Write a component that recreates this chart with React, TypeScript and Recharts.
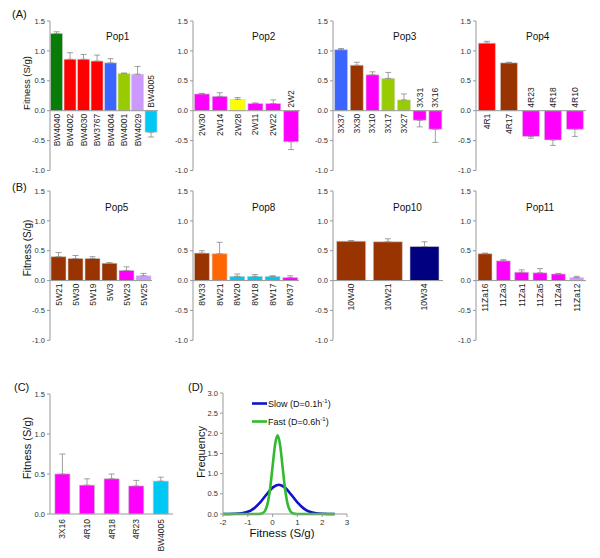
import React from "react";
import {
  BarChart,
  Bar,
  Cell,
  XAxis,
  YAxis,
  ReferenceLine,
  ErrorBar,
  LabelList,
  LineChart,
  Line,
} from "recharts";

const FONT = '"Liberation Sans", Arial, sans-serif';

// colour classes used for the strains
const GREEN = "#087c08";
const RED = "#ff0000";
const BLUE = "#3a66ff";
const LIME = "#99cc00";
const LILAC = "#cc99ff";
const CYAN = "#00c8f5";
const MAGENTA = "#ff00ff";
const BROWN = "#993300";
const YELLOW = "#ffff00";
const ORANGE = "#ff6600";
const NAVY = "#000080";

// (A)
const pop1Names = ["BW4040", "BW4002", "BW4030", "BW3767", "BW4004", "BW4001", "BW4029", "BW4005"];
const pop1Fitness = [1.29, 0.86, 0.86, 0.83, 0.8, 0.62, 0.61, -0.36];
const pop1Err = [0.03, 0.11, 0.08, 0.1, 0.07, 0.01, 0.13, 0.08];
const pop1Colors = [GREEN, RED, RED, RED, BLUE, LIME, LILAC, CYAN];

const pop2Names = ["2W30", "2W14", "2W28", "2W11", "2W22", "2W2"];
const pop2Fitness = [0.28, 0.24, 0.19, 0.12, 0.12, -0.52];
const pop2Err = [0.01, 0.06, 0.03, 0.01, 0.06, 0.13];
const pop2Colors = [MAGENTA, MAGENTA, YELLOW, MAGENTA, MAGENTA, MAGENTA];

const pop3Names = ["3X37", "3X30", "3X10", "3X17", "3X27", "3X31", "3X16"];
const pop3Fitness = [1.02, 0.76, 0.6, 0.54, 0.18, -0.16, -0.31];
const pop3Err = [0.02, 0.05, 0.05, 0.1, 0.1, 0.11, 0.22];
const pop3Colors = [BLUE, BROWN, MAGENTA, LIME, LIME, MAGENTA, MAGENTA];

const pop4Names = ["4R1", "4R17", "4R23", "4R18", "4R10"];
const pop4Fitness = [1.13, 0.8, -0.43, -0.49, -0.31];
const pop4Err = [0.03, 0.01, 0.03, 0.09, 0.12];
const pop4Colors = [RED, BROWN, MAGENTA, MAGENTA, MAGENTA];

// (B)
const pop5Names = ["5W21", "5W30", "5W19", "5W3", "5W23", "5W25"];
const pop5Fitness = [0.4, 0.37, 0.37, 0.29, 0.17, 0.08];
const pop5Err = [0.07, 0.05, 0.03, 0.01, 0.06, 0.04];
const pop5Colors = [BROWN, BROWN, BROWN, BROWN, MAGENTA, LILAC];

const pop8Names = ["8W33", "8W21", "8W20", "8W18", "8W17", "8W37"];
const pop8Fitness = [0.46, 0.45, 0.07, 0.07, 0.07, 0.05];
const pop8Err = [0.04, 0.19, 0.04, 0.03, 0.01, 0.03];
const pop8Colors = [BROWN, ORANGE, CYAN, CYAN, CYAN, MAGENTA];

const pop10Names = ["10W40", "10W21", "10W34"];
const pop10Fitness = [0.66, 0.65, 0.57];
const pop10Err = [0.01, 0.05, 0.08];
const pop10Colors = [BROWN, BROWN, NAVY];

const pop11Names = ["11Za16", "11Za3", "11Za1", "11Za5", "11Za4", "11Za12"];
const pop11Fitness = [0.45, 0.33, 0.14, 0.13, 0.11, 0.05];
const pop11Err = [0.01, 0.02, 0.04, 0.07, 0.01, 0.02];
const pop11Colors = [BROWN, MAGENTA, MAGENTA, MAGENTA, MAGENTA, LILAC];

// (C)
const cNames = ["3X16", "4R10", "4R18", "4R23", "BW4005"];
const cFitness = [0.5, 0.36, 0.44, 0.35, 0.41];
const cErr = [0.25, 0.08, 0.06, 0.07, 0.05];
const cColors = [MAGENTA, MAGENTA, MAGENTA, MAGENTA, CYAN];

// (D)
const slowX = [-2, -1.75, -1.5, -1.25, -1, -0.75, -0.5, -0.25, 0, 0.25, 0.5, 0.75, 1, 1.25, 1.5, 1.75, 2, 2.25, 2.5];
const slowFreq = [0, 0.001, 0.005, 0.018, 0.055, 0.139, 0.286, 0.48, 0.654, 0.725, 0.654, 0.48, 0.286, 0.139, 0.055, 0.018, 0.005, 0.001, 0];
const fastX = [-2, -1, -0.6, -0.5, -0.4, -0.3, -0.2, -0.1, 0, 0.1, 0.2, 0.3, 0.4, 0.5, 0.6, 0.7, 0.8, 0.9, 1, 1.5, 2.5];
const fastFreq = [0, 0, 0, 0.004, 0.022, 0.086, 0.264, 0.633, 1.183, 1.721, 1.95, 1.721, 1.183, 0.633, 0.264, 0.086, 0.022, 0.004, 0, 0, 0];

const barTicks = [-1, -0.5, 0, 0.5, 1, 1.5];
const cTicks = [0, 0.5, 1, 1.5];
const dYTicks = [0, 0.5, 1, 1.5, 2, 2.5, 3];
const dXTicks = [-2, -1, 0, 1, 2, 3];

type Row = { name: string; value: number; err: [number, number] };

function toRows(names: string[], values: number[], errs: number[]): Row[] {
  return names.map((n, i) => ({
    name: n,
    value: values[i],
    err: values[i] >= 0 ? [0, errs[i]] : [errs[i], 0],
  }));
}

const AXIS = "#999";
const tickStyle = { fontSize: 7.5, fill: "#333", fontFamily: FONT };

// strain name: under the zero line for positive bars, over it for negative ones
function StrainLabel(props: any) {
  const vb = props.viewBox || props;
  const x = props.x ?? vb.x;
  const y = props.y ?? vb.y;
  const w = props.width ?? vb.width;
  const h = props.height ?? vb.height;
  const row: Row = props.rows[props.index];
  const cx = x + w / 2;
  const pos = row.value >= 0;
  const zero = pos ? Math.max(y, y + h) : Math.min(y, y + h);
  const ty = pos ? zero + 3 : zero - 3;
  return (
    <text
      x={cx}
      y={ty}
      transform={`rotate(-90 ${cx} ${ty})`}
      textAnchor={pos ? "end" : "start"}
      dominantBaseline="central"
      fontSize={8.5}
      fill="#222"
      fontFamily={FONT}
    >
      {row.name}
    </text>
  );
}

function StrainPanel({ rows, colors, left, top, plotWidth, plotHeight, gap = "10%" }: any) {
  return (
    <div style={{ position: "absolute", left, top }}>
      <BarChart
        width={30 + plotWidth + 4}
        height={plotHeight + 10}
        data={rows}
        margin={{ top: 5, right: 4, bottom: 5, left: 0 }}
        barCategoryGap={gap}
      >
        <XAxis dataKey="name" hide />
        <YAxis
          domain={[-1, 1.5]}
          ticks={barTicks}
          interval={0}
          width={30}
          tickSize={3}
          axisLine={{ stroke: AXIS }}
          tickLine={{ stroke: AXIS }}
          tick={tickStyle}
          tickFormatter={(v: number) => v.toFixed(1)}
        />
        <ReferenceLine y={0} stroke={AXIS} />
        <Bar dataKey="value" isAnimationActive={false} stroke="#d0d0d0" strokeWidth={0.6}>
          {rows.map((r: Row, i: number) => (
            <Cell key={r.name} fill={colors[i]} />
          ))}
          <ErrorBar dataKey="err" direction="y" width={3} stroke="#888" strokeWidth={0.8} />
          <LabelList dataKey="name" content={(p: any) => <StrainLabel {...p} rows={rows} />} />
        </Bar>
      </BarChart>
    </div>
  );
}

function RotTick({ x, y, payload }: any) {
  const ty = y - 3;
  return (
    <text
      x={x}
      y={ty}
      transform={`rotate(-90 ${x} ${ty})`}
      textAnchor="end"
      dominantBaseline="central"
      fontSize={8.5}
      fill="#222"
      fontFamily={FONT}
    >
      {payload.value}
    </text>
  );
}

function PanelC() {
  const rows = toRows(cNames, cFitness, cErr);
  return (
    <div style={{ position: "absolute", left: 20, top: 389 }}>
      <BarChart
        width={30 + 123 + 4}
        height={169}
        data={rows}
        margin={{ top: 5, right: 4, bottom: 0, left: 0 }}
        barCategoryGap="20%"
      >
        <XAxis
          dataKey="name"
          interval={0}
          height={44}
          axisLine={{ stroke: AXIS }}
          tickLine={false}
          tick={<RotTick />}
        />
        <YAxis
          domain={[0, 1.5]}
          ticks={cTicks}
          interval={0}
          width={30}
          tickSize={3}
          axisLine={{ stroke: AXIS }}
          tickLine={{ stroke: AXIS }}
          tick={tickStyle}
          tickFormatter={(v: number) => v.toFixed(1)}
        />
        <Bar dataKey="value" isAnimationActive={false} stroke="#bbb" strokeWidth={0.6}>
          {rows.map((r, i) => (
            <Cell key={r.name} fill={cColors[i]} />
          ))}
          <ErrorBar dataKey="err" direction="y" width={3} stroke="#888" strokeWidth={0.8} />
        </Bar>
      </BarChart>
    </div>
  );
}

function PanelD() {
  const slow = slowX.map((x, i) => ({ x, y: slowFreq[i] }));
  const fast = fastX.map((x, i) => ({ x, y: fastFreq[i] }));
  return (
    <div style={{ position: "absolute", left: 193, top: 388 }}>
      <LineChart width={30 + 124 + 6} height={140} margin={{ top: 5, right: 6, bottom: 0, left: 0 }}>
        <XAxis
          dataKey="x"
          type="number"
          domain={[-2, 3]}
          ticks={dXTicks}
          interval={0}
          height={14}
          tickSize={3}
          axisLine={{ stroke: AXIS }}
          tickLine={{ stroke: AXIS }}
          tick={{ ...tickStyle, fontSize: 8 }}
        />
        <YAxis
          domain={[0, 3]}
          ticks={dYTicks}
          interval={0}
          width={30}
          tickSize={3}
          axisLine={{ stroke: AXIS }}
          tickLine={{ stroke: AXIS }}
          tick={tickStyle}
          tickFormatter={(v: number) => v.toFixed(1)}
        />
        <Line data={slow} dataKey="y" type="monotone" stroke="#0f12c8" strokeWidth={2.6} dot={false} isAnimationActive={false} />
        <Line data={fast} dataKey="y" type="monotone" stroke="#2fba2f" strokeWidth={2.6} dot={false} isAnimationActive={false} />
      </LineChart>
    </div>
  );
}

function Overlay() {
  const lab = { fontFamily: FONT, fill: "#111" };
  const title = (x: number, y: number, t: string) => (
    <text x={x} y={y} fontSize={10} {...lab}>
      {t}
    </text>
  );
  const vlabel = (cx: number, cy: number, t: string, size: number) => (
    <text
      x={cx}
      y={cy}
      transform={`rotate(-90 ${cx} ${cy})`}
      textAnchor="middle"
      dominantBaseline="central"
      fontSize={size}
      {...lab}
    >
      {t}
    </text>
  );
  return (
    <svg width={600} height={558} style={{ position: "absolute", left: 0, top: 0, pointerEvents: "none" }}>
      <text x={12} y={18} fontSize={11} {...lab}>(A)</text>
      <text x={12} y={191} fontSize={11} {...lab}>(B)</text>
      <text x={14} y={391} fontSize={11} {...lab}>(C)</text>
      <text x={188} y={391} fontSize={11} {...lab}>(D)</text>

      {title(106, 40, "Pop1")}
      {title(252, 40, "Pop2")}
      {title(393, 40, "Pop3")}
      {title(526, 40, "Pop4")}
      {title(105, 211, "Pop5")}
      {title(252, 211, "Pop8")}
      {title(393, 211, "Pop10")}
      {title(526, 211, "Pop11")}

      {vlabel(26, 83, "Fitness (S/g)", 9.5)}
      {vlabel(27, 248, "Fitness (S/g)", 10)}
      {vlabel(27, 448, "Fitness (S/g)", 11)}
      {vlabel(201, 452, "Frequency", 11)}
      <text x={282} y={537} textAnchor="middle" fontSize={11.5} {...lab}>
        Fitness (S/g)
      </text>

      <line x1={252} x2={267} y1={403.5} y2={403.5} stroke="#0f12c8" strokeWidth={2.6} />
      <text x={268} y={406.5} fontSize={9} {...lab}>
        Slow (D=0.1h<tspan dy={-3.5} fontSize={6}>-1</tspan>
        <tspan dy={3.5}>)</tspan>
      </text>
      <line x1={252} x2={267} y1={421.5} y2={421.5} stroke="#2fba2f" strokeWidth={2.6} />
      <text x={268} y={424.5} fontSize={9} {...lab}>
        Fast (D=0.6h<tspan dy={-3.5} fontSize={6}>-1</tspan>
        <tspan dy={3.5}>)</tspan>
      </text>
    </svg>
  );
}

export default function App() {
  const rowA = 15.5;
  const rowB = 185.7;
  return (
    <div
      style={{
        position: "absolute",
        left: 0,
        top: 0,
        width: 600,
        height: 558,
        background: "#fff",
        fontFamily: FONT,
      }}
    >
      <StrainPanel rows={toRows(pop1Names, pop1Fitness, pop1Err)} colors={pop1Colors} left={20} top={rowA} plotWidth={108} plotHeight={149.5} gap="4%" />
      <StrainPanel rows={toRows(pop2Names, pop2Fitness, pop2Err)} colors={pop2Colors} left={162.7} top={rowA} plotWidth={107} plotHeight={149.5} gap="8%" />
      <StrainPanel rows={toRows(pop3Names, pop3Fitness, pop3Err)} colors={pop3Colors} left={303} top={rowA} plotWidth={110} plotHeight={149.5} gap="10%" />
      <StrainPanel rows={toRows(pop4Names, pop4Fitness, pop4Err)} colors={pop4Colors} left={446} top={rowA} plotWidth={110} plotHeight={149.5} gap="11%" />

      <StrainPanel rows={toRows(pop5Names, pop5Fitness, pop5Err)} colors={pop5Colors} left={20} top={rowB} plotWidth={102} plotHeight={149.3} gap="6%" />
      <StrainPanel rows={toRows(pop8Names, pop8Fitness, pop8Err)} colors={pop8Colors} left={162.7} top={rowB} plotWidth={106} plotHeight={149.3} gap="8%" />
      <StrainPanel rows={toRows(pop10Names, pop10Fitness, pop10Err)} colors={pop10Colors} left={303} top={rowB} plotWidth={110} plotHeight={149.3} gap="10%" />
      <StrainPanel rows={toRows(pop11Names, pop11Fitness, pop11Err)} colors={pop11Colors} left={446} top={rowB} plotWidth={110} plotHeight={149.3} gap="11%" />

      <PanelC />
      <PanelD />
      <Overlay />
    </div>
  );
}
